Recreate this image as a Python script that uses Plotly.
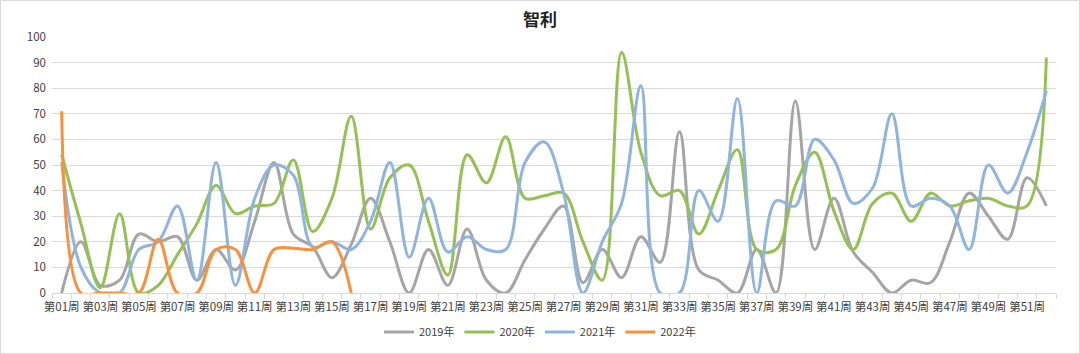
import plotly.graph_objects as go

weeks = [f"第{i:02d}周" for i in range(1, 53)]
tick_labels = [w if (i % 2 == 0) else "" for i, w in enumerate(weeks)]

y2019 = [0, 20, 3, 5, 23, 20, 22, 5, 17, 9, 28, 51, 23, 18, 6, 19, 37, 20, 0, 17,
         3, 25, 5, 0, 13, 25, 34, 4, 17, 6, 22, 12, 63, 9, 5, 0, 17, 0, 75, 17,
         37, 16, 8, 0, 5, 4, 20, 39, 30, 21, 45, 34]
y2020 = [54, 27, 2, 31, 0, 3, 15, 27, 42, 31, 34, 35, 52, 24, 37, 69, 25, 45, 50, 28,
         7, 54, 43, 61, 37, 38, 39, 20, 5, 94, 55, 38, 40, 23, 40, 56, 17, 17, 42, 55,
         32, 17, 35, 39, 28, 39, 34, 36, 37, 34, 34, 92]
y2021 = [51, 10, 0, 0, 17, 20, 34, 5, 51, 3, 37, 50, 46, 18, 20, 17, 28, 51, 14, 37,
         16, 22, 17, 17, 51, 59, 39, 0, 20, 35, 81, 0, 0, 40, 28, 76, 0, 36, 34, 60,
         52, 35, 41, 70, 34, 37, 34, 17, 50, 39, 55, 79]
y2022 = [71, 0, 0, 0, 0, 21, 0, 0, 17, 17, 0, 17, 17.5, 17, 20, 0]

series = [
    ("2019年", y2019, "#A5A5A5"),
    ("2020年", y2020, "#94C054"),
    ("2021年", y2021, "#8FB4DE"),
    ("2022年", y2022, "#F7913D"),
]

fig = go.Figure()
for name, vals, color in series:
    fig.add_trace(go.Scatter(
        x=weeks[:len(vals)], y=vals, name=name, mode="lines",
        line=dict(color=color, width=3, shape="spline", smoothing=1.0),
    ))

font_family = "Noto Sans CJK SC, Noto Sans, sans-serif"
L, R, T, B = 52, 24, 37, 61
fig.update_layout(
    width=1080, height=354,
    margin=dict(l=L, r=R, t=T, b=B, autoexpand=False),
    paper_bgcolor="white", plot_bgcolor="white",
    font=dict(family=font_family, size=12, color="#404040"),
    title=dict(text="<b>智利</b>", x=0.5, xanchor="center", y=1 - 20 / 354, yanchor="middle",
               yref="container",
               font=dict(size=17, color="#222222", family=font_family)),
    showlegend=True,
    legend=dict(orientation="h", x=0.5, xanchor="center", xref="container",
                y=1 - 332 / 354, yanchor="middle", yref="container",
                font=dict(size=11, color="#404040"), itemwidth=30, tracegroupgap=0),
    xaxis=dict(
        type="category", categoryorder="array", categoryarray=weeks,
        range=[-0.5, 51.5], tickvals=weeks, ticktext=tick_labels,
        tickson="boundaries", ticks="outside", ticklen=5, tickcolor="#D9D9D9",
        showgrid=False, showline=True, linecolor="#D9D9D9", linewidth=1,
        tickangle=0, tickfont=dict(size=11.5, color="#404040"), zeroline=False,
        automargin=False, ticklabelstandoff=3,
    ),
    yaxis=dict(
        range=[0, 100], dtick=10, showgrid=True, gridcolor="#D9D9D9", gridwidth=1,
        zeroline=False, showline=False, ticks="", tickfont=dict(size=11.5, color="#404040"),
        automargin=False, ticklabelstandoff=5,
    ),
)

pw = 1080 - L - R
ph = 354 - T - B
fig.add_shape(type="rect", xref="paper", yref="paper",
              x0=-(L - 0.5) / pw, x1=(pw + R - 0.5) / pw,
              y0=-(B - 0.5) / ph, y1=(ph + T - 0.5) / ph,
              line=dict(color="#D9D9D9", width=1), fillcolor="rgba(0,0,0,0)", layer="below")

fig.write_html("out.html")
